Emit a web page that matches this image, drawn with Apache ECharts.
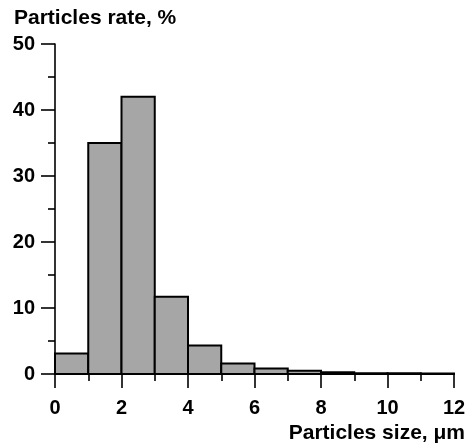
<!DOCTYPE html>
<html>
<head>
<meta charset="utf-8">
<script src="https://cdn.jsdelivr.net/npm/echarts@6/dist/echarts.min.js"></script>
<style>
html,body{margin:0;padding:0;background:#fff;}
#chart{width:474px;height:444px;}
</style>
</head>
<body>
<div id="chart"></div>
<script>
// Data
const binStarts = [0, 1, 2, 3, 4, 5, 6, 7, 8, 9, 10, 11];
const binEnds   = [1, 2, 3, 4, 5, 6, 7, 8, 9, 10, 11, 12];
const rates     = [3.1, 35, 42, 11.7, 4.3, 1.6, 0.85, 0.5, 0.25, 0.12, 0.12, 0.08];
const yTitle = 'Particles rate, %';
const xTitle = 'Particles size, \u03bcm';

const FONT = 'Liberation Sans, Arial, Helvetica, sans-serif';
const chart = echarts.init(document.getElementById('chart'), null, {renderer: 'canvas'});

const seriesData = binStarts.map((s, i) => [s, binEnds[i], rates[i]]);

chart.setOption({
  animation: false,
  backgroundColor: '#fff',
  title: [
    {text: yTitle, left: 14, top: 8, padding: 0,
     textStyle: {fontFamily: FONT, fontWeight: 'bold', fontSize: 21, color: '#000'}},
    {text: xTitle, right: 9, top: 423, padding: 0,
     textStyle: {fontFamily: FONT, fontWeight: 'bold', fontSize: 21, color: '#000'}}
  ],
  grid: {left: 55, right: 20, top: 44, bottom: 70, containLabel: false},
  xAxis: {
    type: 'value', min: 0, max: 12, interval: 2,
    axisLine: {show: true, lineStyle: {color: '#000', width: 1.6}},
    axisTick: {show: true, length: 14, lineStyle: {color: '#000', width: 1.6}},
    minorTick: {show: true, splitNumber: 2, length: 7, lineStyle: {color: '#000', width: 1.6}},
    splitLine: {show: false},
    minorSplitLine: {show: false},
    axisLabel: {margin: 24, fontFamily: FONT, fontWeight: 'bold', fontSize: 20, color: '#000'}
  },
  yAxis: {
    type: 'value', min: 0, max: 50, interval: 10,
    axisLine: {show: true, lineStyle: {color: '#000', width: 1.6}},
    axisTick: {show: true, length: 14, lineStyle: {color: '#000', width: 1.6}},
    minorTick: {show: true, splitNumber: 2, length: 7, lineStyle: {color: '#000', width: 1.6}},
    splitLine: {show: false},
    minorSplitLine: {show: false},
    axisLabel: {margin: 20, fontFamily: FONT, fontWeight: 'bold', fontSize: 20, color: '#000'}
  },
  series: [{
    type: 'custom',
    data: seriesData,
    encode: {x: [0, 1], y: 2},
    z: 1,
    renderItem: function (params, api) {
      const p0 = api.coord([api.value(0), api.value(2)]);
      const p1 = api.coord([api.value(1), 0]);
      return {
        type: 'rect',
        shape: {x: p0[0], y: p0[1], width: p1[0] - p0[0], height: p1[1] - p0[1]},
        style: {fill: '#a6a6a6', stroke: '#000', lineWidth: 2}
      };
    }
  }]
});
</script>
</body>
</html>
